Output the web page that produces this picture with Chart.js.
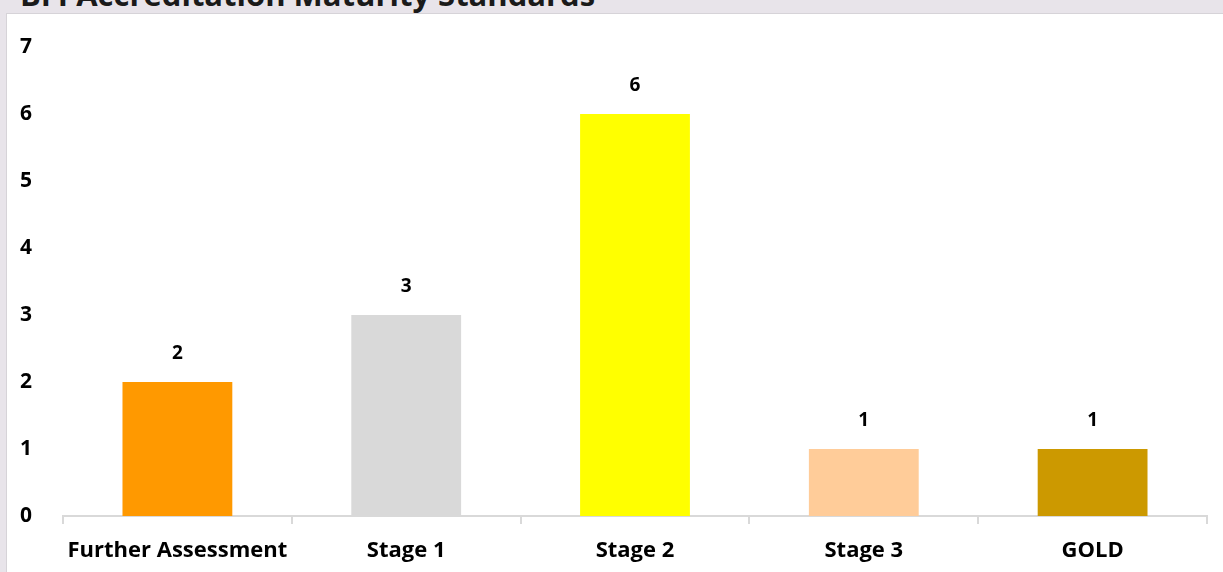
<!DOCTYPE html>
<html>
<head>
<meta charset="utf-8">
<script src="https://cdn.jsdelivr.net/npm/chart.js@4.4.1/dist/chart.umd.min.js"></script>
<style>
	html, body {
		margin: 0;
		padding: 0;
		width: 1223px;
		height: 572px;
		overflow: hidden;
		background: #e8e4ea;
		font-family: "Open Sans", sans-serif;
	}
	.title {
		position: absolute;
		left: 20px;
		top: -21px;
		font-size: 31px;
		line-height: 1;
		font-weight: 700;
		color: #1a1a1a;
		white-space: nowrap;
	}
	.panel {
		position: absolute;
		left: 6px;
		top: 13px;
		width: 1230px;
		height: 600px;
		background: #ffffff;
		border: 1px solid #d6d3d8;
	}
	#maturityChart {
		position: absolute;
		left: 0;
		top: 0;
	}
</style>
</head>
<body>
<div class="title">BFI Accreditation Maturity Standards</div>
<div class="panel"></div>
<canvas id="maturityChart" width="1223" height="572"></canvas>

<script>
const stages = ["Further Assessment", "Stage 1", "Stage 2", "Stage 3", "GOLD"];
const counts = [2, 3, 6, 1, 1];
const stageColours = ["#ff9900", "#d9d9d9", "#ffff00", "#ffcc99", "#cc9900"];
const yTicks = [0, 1, 2, 3, 4, 5, 6, 7];

// prints each bar's value above it
const valueLabels = {
	id: "valueLabels",
	afterDatasetsDraw(chart) {
		const ctx = chart.ctx;
		const meta = chart.getDatasetMeta(0);
		ctx.save();
		ctx.font = "bold 19px 'Open Sans'";
		ctx.fillStyle = "#000";
		ctx.textAlign = "center";
		ctx.textBaseline = "middle";
		meta.data.forEach((bar, i) => {
			ctx.fillText(String(counts[i]), bar.x, bar.y - 28);
		});
		ctx.restore();
	},
};

new Chart(document.getElementById("maturityChart"), {
	type: "bar",
	data: {
		labels: stages,
		datasets: [
			{
				data: counts,
				backgroundColor: stageColours,
				borderWidth: 0,
				categoryPercentage: 1,
				barPercentage: 0.48,
			},
		],
	},
	options: {
		responsive: false,
		animation: false,
		layout: { padding: { top: 47, right: 16, bottom: 0, left: 0 } },
		plugins: {
			legend: { display: false },
			tooltip: { enabled: false },
		},
		scales: {
			x: {
				grid: {
					offset: true,
					drawOnChartArea: false,
					drawTicks: true,
					tickLength: 8,
					color: "#d9d9d9",
					lineWidth: 2,
				},
				border: { display: true, color: "#d9d9d9", width: 2 },
				ticks: {
					color: "#000",
					padding: 14,
					font: { family: "Open Sans", size: 22, weight: "bold" },
				},
				afterFit(scale) {
					scale.height = 56;
				},
			},
			y: {
				min: 0,
				max: 7,
				afterBuildTicks(scale) {
					scale.ticks = yTicks.map((v) => ({ value: v }));
				},
				grid: { display: false },
				border: { display: false },
				ticks: {
					color: "#000",
					padding: 23,
					font: { family: "Open Sans", size: 21, weight: "bold" },
				},
				afterFit(scale) {
					scale.width = 63;
				},
			},
		},
	},
	plugins: [valueLabels],
});
</script>
</body>
</html>
